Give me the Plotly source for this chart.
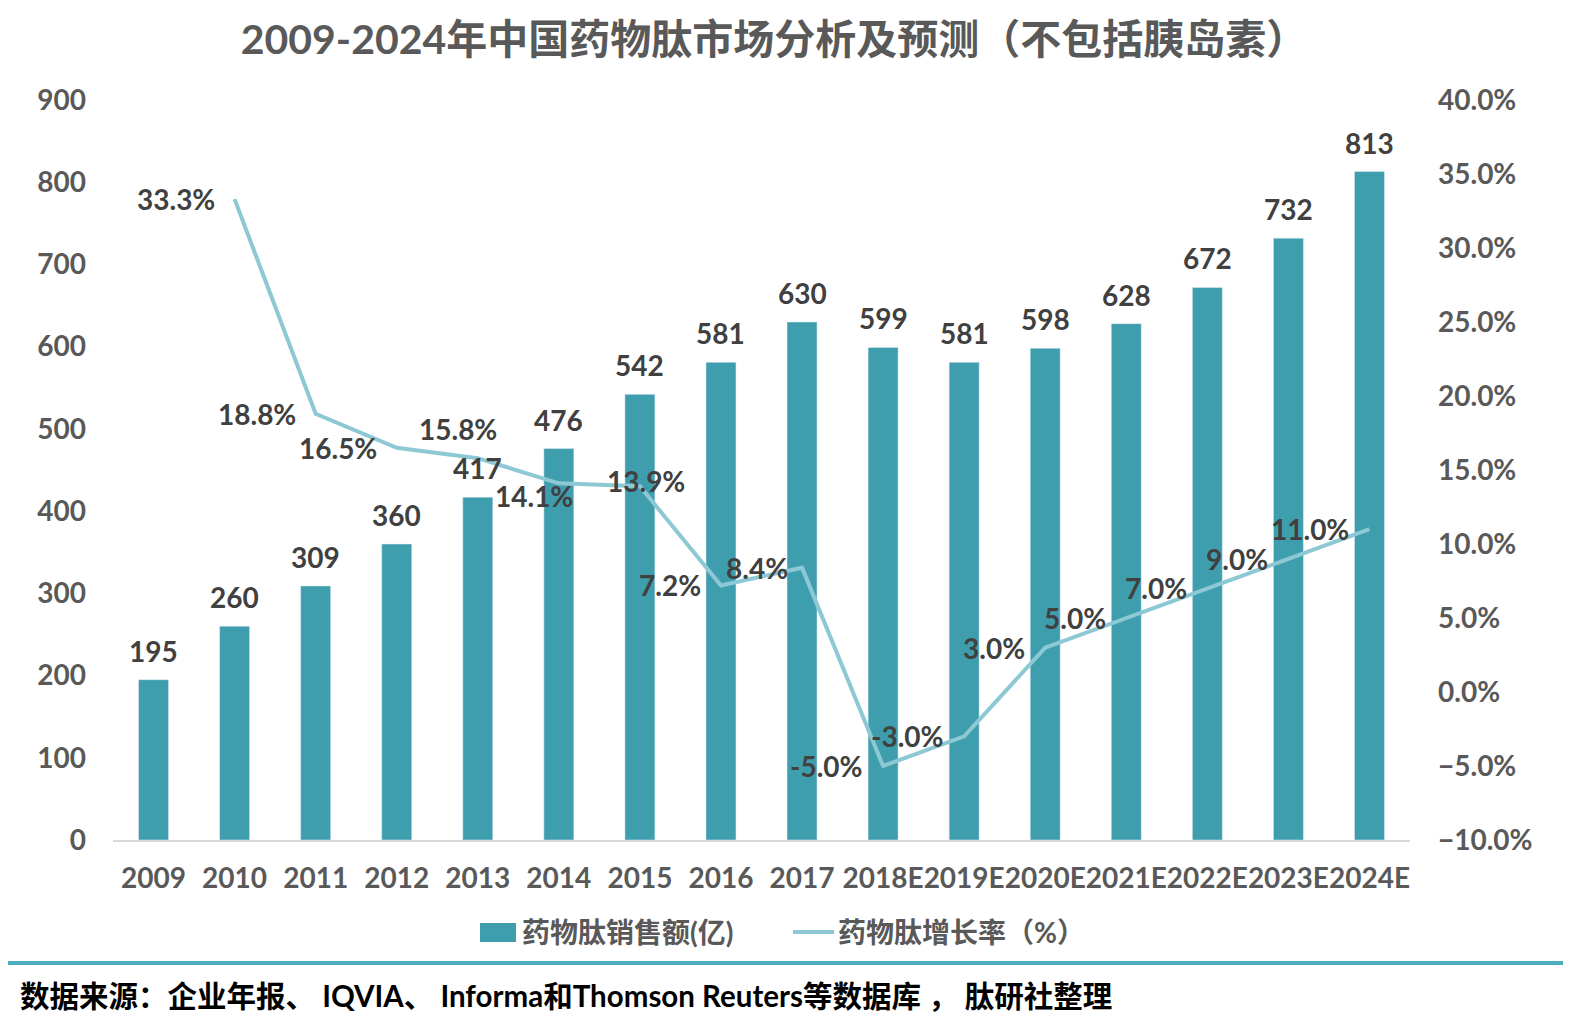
import plotly.graph_objects as go

years = ["2009", "2010", "2011", "2012", "2013", "2014", "2015", "2016", "2017",
         "2018E", "2019E", "2020E", "2021E", "2022E", "2023E", "2024E"]
sales = [195, 260, 309, 360, 417, 476, 542, 581, 630, 599, 581, 598, 628, 672, 732, 813]
growth_years = years[1:]
growth = [0.333, 0.188, 0.165, 0.158, 0.141, 0.139, 0.072, 0.084, -0.05, -0.03,
          0.03, 0.05, 0.07, 0.09, 0.11]
growth_labels = ["33.3%", "18.8%", "16.5%", "15.8%", "14.1%", "13.9%", "7.2%", "8.4%",
                 "-5.0%", "-3.0%", "3.0%", "5.0%", "7.0%", "9.0%", "11.0%"]

# label placement styles (anchor, xshift, yshift) for the growth labels
label_style = [("right", -18, 0), ("right", -18, 0), ("right", -18, 0), ("center", -20, 29),
               ("center", -25, -13), ("center", 6, 5), ("right", -18, 0), ("right", -12, 0),
               ("right", -18, 0), ("right", -18, 0), ("right", -18, 0), ("right", -18, 0),
               ("right", -18, 0), ("right", -18, 0), ("right", -18, 0)]

FONT = "Lato, 'Noto Sans CJK SC', sans-serif"
OFF = 8  # page body margin
W, H = 1571 - OFF, 1031 - OFF
L, R, T, B = 113 - OFF, 1410 - OFF, 100 - OFF, 840 - OFF


def px_x(p):
    return (p - OFF - L) / (R - L)


def px_y(p):
    return (B - (p - OFF)) / (B - T)


fig = go.Figure()
fig.add_trace(go.Bar(
    x=years, y=sales, name="药物肽销售额(亿)",
    marker_color="#3F9EAD", width=0.37, showlegend=False,
))
fig.add_trace(go.Scatter(
    x=growth_years, y=growth, name="药物肽增长率（%）", yaxis="y2",
    mode="lines", line=dict(color="#8DC8D5", width=4), showlegend=False,
    cliponaxis=False,
))

lab_font = dict(family=FONT, size=28, color="#404040", weight="bold")
for i, v in enumerate(sales):
    fig.add_annotation(x=i, y=v, xref="x", yref="y", text=str(v), showarrow=False,
                       xanchor="center", yanchor="bottom", yshift=10, font=lab_font)
for i, (v, t, (anc, xs, ys)) in enumerate(zip(growth, growth_labels, label_style)):
    fig.add_annotation(x=i + 1, y=v, xref="x", yref="y2", text=t, showarrow=False,
                       xanchor=anc, yanchor="middle", xshift=xs, yshift=ys, font=lab_font)

tick_font = dict(family=FONT, size=28, color="#595959", weight="bold")
fig.update_layout(
    width=W, height=H,
    margin=dict(l=L, r=W - R, t=T, b=H - B, autoexpand=False),
    plot_bgcolor="white", paper_bgcolor="white",
    font=dict(family=FONT, color="#595959"),
    title=dict(text="2009-2024年中国药物肽市场分析及预测（不包括胰岛素）",
               x=(774 - OFF) / W, xanchor="center",
               y=1 - (40 - OFF) / H, yanchor="middle",
               font=dict(family=FONT, size=41, color="#595959", weight="bold")),
    xaxis=dict(type="category", categoryorder="array", categoryarray=years,
               range=[-0.5, len(years) - 0.5], tickangle=0,
               showline=True, linecolor="#D9D9D9", linewidth=2,
               ticks="", showgrid=False, tickfont=tick_font, ticklabelstandoff=12),
    yaxis=dict(range=[0, 900], dtick=100, showgrid=False, zeroline=False,
               showline=False, ticks="", tickfont=tick_font, ticklabelstandoff=26),
    yaxis2=dict(range=[-0.10, 0.40], dtick=0.05, tickformat=".1%", overlaying="y",
                side="right", showgrid=False, zeroline=False, showline=False, ticks="",
                tickfont=tick_font, ticklabelstandoff=27),
    showlegend=False,
)

# legend drawn manually
leg_font = dict(family=FONT, size=28, color="#595959", weight="bold")
fig.add_shape(type="rect", xref="paper", yref="paper",
              x0=px_x(480), x1=px_x(516), y0=px_y(923), y1=px_y(942),
              fillcolor="#3F9EAD", line=dict(width=0))
fig.add_annotation(text="药物肽销售额(亿)", xref="paper", yref="paper",
                   x=px_x(520), y=px_y(932), xanchor="left", yanchor="middle",
                   showarrow=False, font=leg_font)
fig.add_shape(type="line", xref="paper", yref="paper",
              x0=px_x(793), x1=px_x(834), y0=px_y(932), y1=px_y(932),
              line=dict(color="#8DC8D5", width=4))
fig.add_annotation(text="药物肽增长率（%）", xref="paper", yref="paper",
                   x=px_x(836), y=px_y(932), xanchor="left", yanchor="middle",
                   showarrow=False, font=leg_font)

# footer
fig.add_shape(type="line", xref="paper", yref="paper",
              x0=px_x(5), x1=px_x(1565), y0=px_y(963), y1=px_y(963),
              line=dict(color="#4FADC0", width=4))
fig.add_annotation(text="数据来源：企业年报、 IQVIA、 Informa和Thomson Reuters等数据库 ， 肽研社整理",
                   xref="paper", yref="paper", x=px_x(18), y=px_y(995),
                   xanchor="left", yanchor="middle", showarrow=False,
                   font=dict(family=FONT, size=29.5, color="#000000", weight="bold"))

fig.write_html("out.html")
